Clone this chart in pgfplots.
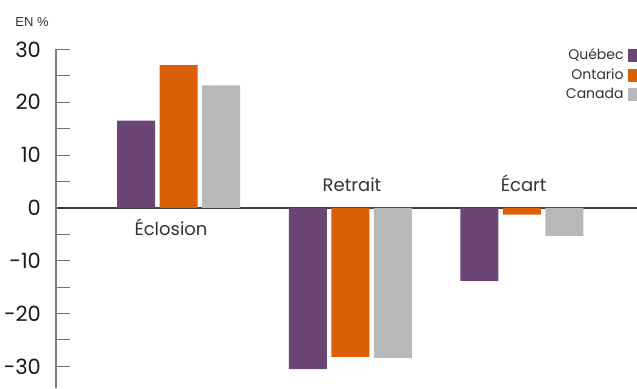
\documentclass[border=0pt]{standalone}
\usepackage{fontspec}
\setmainfont{Poppins}
\newfontfamily\unitfont{Liberation Sans}
\usepackage{pgfplots}
\pgfplotsset{compat=1.18}
\definecolor{qc}{HTML}{6B4674}
\definecolor{on}{HTML}{DA5F05}
\definecolor{ca}{HTML}{B7B8BA}
\definecolor{txt}{HTML}{333333}

\begin{document}
\begin{tikzpicture}
\path[use as bounding box] (0,0) rectangle (318.5pt,194pt);
\node[anchor=base west, inner sep=0pt, font=\unitfont\fontsize{6.5}{7}\selectfont, text=txt] at (7.5pt,181pt) {EN \%};
\begin{axis}[
  at={(28pt,0.25pt)}, anchor=south west,
  scale only axis, width=290.5pt, height=169.1pt,
  xmin=-0.714, xmax=2.67, ymin=-34, ymax=30,
  axis x line=middle, axis y line=left,
  x axis line style={-, draw=black!75, line width=0.9pt},
  y axis line style={-, draw=black!50, line width=1pt},
  hide obscured y ticks=false,
  xtick=\empty,
  ytick={-30,-20,-10,0,10,20,30},
  yticklabels={-30,-20,-10,0,10,20,30},
  minor ytick={-25,-15,...,25},
  tick align=inside,
  major tick length=7pt, minor tick length=7pt,
  every tick/.style={black!55, line width=0.5pt},
  yticklabel style={font=\fontsize{10.5}{12}\selectfont, text=black!90, xshift=-4pt},
  ybar=2.25pt, bar width=19pt,
  legend style={at={(rel axis cs:1,1.015)}, anchor=north east, draw=none, fill=none,
    font=\fontsize{7}{8}\selectfont, text=txt, inner sep=0pt, row sep=-1pt,
    /tikz/every even column/.style={column sep=4pt}},
  legend cell align=right,
  legend plot pos=right,
  legend image code/.code={\fill[#1] (0pt,-3.25pt) rectangle (4.5pt,3.25pt);},
  clip=false,
]
\addplot[fill=qc, draw=none] coordinates {(0,16.5) (1,-30.5) (2,-13.8)};
\addplot[fill=on, draw=none] coordinates {(0,27.0) (1,-28.2) (2,-1.3)};
\addplot[fill=ca, draw=none] coordinates {(0,23.2) (1,-28.4) (2,-5.3)};
\legend{Québec, Ontario, Canada}
\node[anchor=base, font=\fontsize{9}{10}\selectfont, text=txt] at (axis cs:-0.044,-5.2) {Éclosion};
\node[anchor=base, font=\fontsize{9}{10}\selectfont, text=txt] at (axis cs:1.01,3.0) {Retrait};
\node[anchor=base, font=\fontsize{9}{10}\selectfont, text=txt] at (axis cs:2.01,3.0) {Écart};
\end{axis}
\end{tikzpicture}
\end{document}
